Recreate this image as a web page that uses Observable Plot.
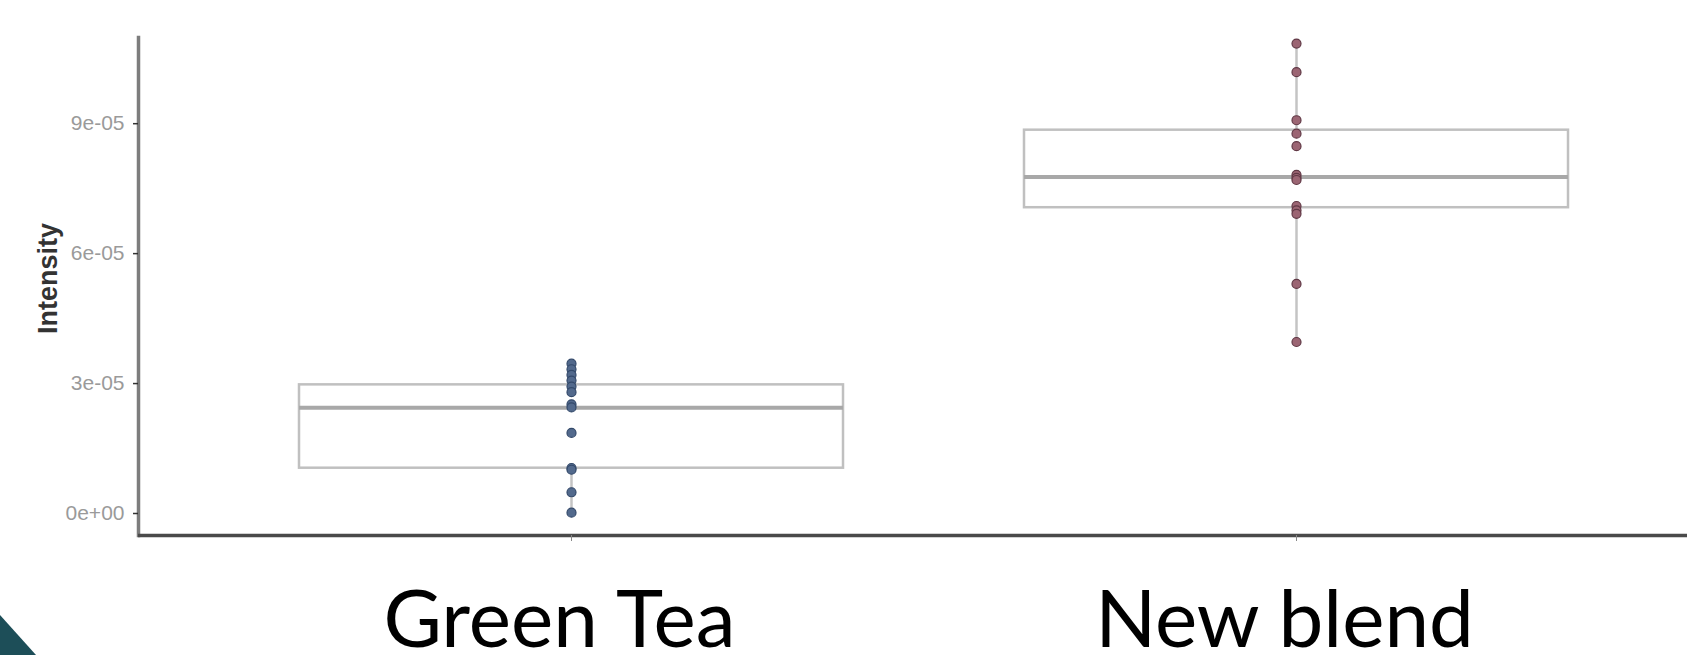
<!DOCTYPE html>
<html>
<head>
<meta charset="utf-8">
<script src="https://cdn.jsdelivr.net/npm/d3@7"></script>
<script src="https://cdn.jsdelivr.net/npm/@observablehq/plot@0.6"></script>
<style>
  html, body { margin: 0; padding: 0; background: #ffffff; }
  #wrap { position: relative; width: 1687px; height: 655px; overflow: hidden; }
  #corner { position: absolute; left: 0; top: 615px; width: 36px; height: 40px;
            background: #1d4e58; clip-path: polygon(0 0, 100% 100%, 0 100%); }
</style>
</head>
<body>
<div id="wrap"><div id="chart"></div><div id="corner"></div></div>
<script>
// ---- data ----
const categories = ["Green Tea", "New blend"];
const greenTeaValues = [3.46e-5, 3.33e-5, 3.2e-5, 3.07e-5, 2.93e-5, 2.8e-5, 2.52e-5, 2.45e-5, 1.86e-5, 1.05e-5, 1.01e-5, 0.49e-5, 0.02e-5];
const newBlendValues = [10.85e-5, 10.19e-5, 9.08e-5, 8.77e-5, 8.48e-5, 7.82e-5, 7.75e-5, 7.7e-5, 7.1e-5, 7.0e-5, 6.92e-5, 5.3e-5, 3.96e-5];
const boxQ1 = [1.046e-5, 7.06e-5];
const boxMedian = [2.44e-5, 7.77e-5];
const boxQ3 = [2.97e-5, 8.85e-5];
const whiskerLow = [0.02e-5, 3.96e-5];
const whiskerHigh = [3.46e-5, 10.85e-5];
const yTicks = [0, 3e-5, 6e-5, 9e-5];
const yTickLabels = ["0e+00", "3e-05", "6e-05", "9e-05"];
const yLabel = "Intensity";

const boxes = categories.map((c, i) => ({
  group: c, q1: boxQ1[i], median: boxMedian[i], q3: boxQ3[i], lo: whiskerLow[i], hi: whiskerHigh[i]
}));
const gtPoints = greenTeaValues.map(v => ({group: categories[0], value: v}));
const nbPoints = newBlendValues.map(v => ({group: categories[1], value: v}));
const yMin = -5.08e-6, yMax = 1.099e-4;

const chart = Plot.plot({
  width: 1687,
  height: 655,
  marginLeft: 138,
  marginRight: 0,
  marginTop: 37,
  marginBottom: 120,
  style: {fontFamily: "'Liberation Sans', Arial, sans-serif", background: "white"},
  x: {type: "band", domain: categories, range: [299, 1568], paddingInner: 0.25, paddingOuter: 0},
  y: {domain: [yMin, yMax]},
  marks: [
    Plot.ruleX(boxes, {x: "group", y1: "lo", y2: "hi", stroke: "#c4c4c4", strokeWidth: 2.5}),
    Plot.barY(boxes, {x: "group", y1: "q1", y2: "q3", fill: "white", stroke: "#c0c0c0", strokeWidth: 2.5}),
    Plot.tickY(boxes, {x: "group", y: "median", stroke: "#a8a8a8", strokeWidth: 4}),
    Plot.dot(gtPoints, {x: "group", y: "value", r: 4.5, fill: "#52698c", stroke: "#33496a", strokeWidth: 1.2}),
    Plot.dot(nbPoints, {x: "group", y: "value", r: 4.5, fill: "#9b6573", stroke: "#603845", strokeWidth: 1.2}),
    Plot.frame({anchor: "left", stroke: "#7d7d7d", strokeWidth: 3.5}),
    Plot.ruleY([yMin], {stroke: "#4a4a4a", strokeWidth: 3.5}),
    Plot.axisY({
      ticks: yTicks,
      tickFormat: d => yTickLabels[yTicks.indexOf(d)],
      tickSize: 5, tickPadding: 9, fontSize: 21,
      stroke: "#333", fill: "#9a9a9a", strokeWidth: 1.5, label: null
    }),
    Plot.axisX({tickSize: 6, tickFormat: () => "", stroke: "#888", label: null}),
    Plot.axisX({
      tickSize: 0, tickPadding: 55, fontSize: 80,
      fontFamily: "Lato, 'Open Sans', sans-serif",
      fill: "#000", dx: -12, label: null
    }),
    Plot.text([yLabel], {
      frameAnchor: "left", textAnchor: "middle", dx: -90, dy: -8, rotate: -90,
      fontSize: 27, fontWeight: "bold", fill: "#333"
    })
  ]
});
document.getElementById("chart").appendChild(chart);
</script>
</body>
</html>
